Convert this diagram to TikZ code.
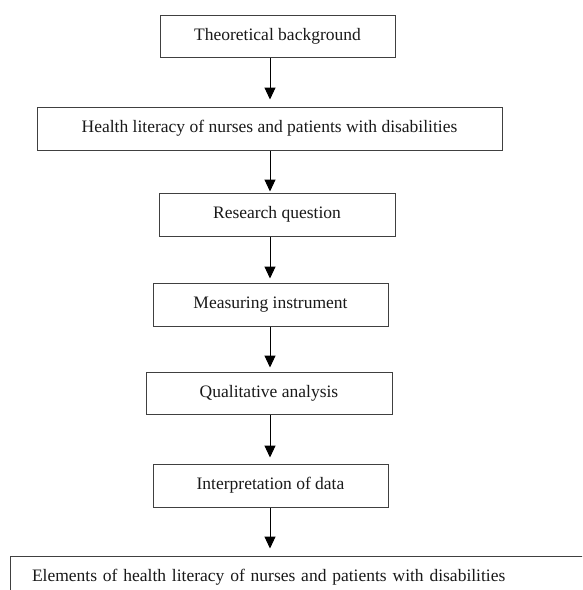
\documentclass[tikz,border=0pt]{standalone}
\usepackage{fontspec}
\setmainfont{Liberation Serif}
\usetikzlibrary{arrows.meta}
\begin{document}
\begin{tikzpicture}[x=1pt,y=-1pt,
  box/.style={draw=black!75, line width=1pt, rectangle, inner sep=0pt,
    font=\fontsize{17.5}{21}\selectfont, text=black!90},
  arr/.style={line width=1pt, -{Triangle[width=11pt,length=12pt]}}]
\useasboundingbox (0,0) rectangle (582,590);
\clip (0,0) rectangle (582,590);
\coordinate (ax) at (270,0);
\node[box, minimum width=235pt, minimum height=42pt] (b1) at (277.5,36) {Theoretical background};
\node[box, minimum width=465pt, minimum height=43pt] (b2) at (269.5,128.5) {Health literacy of nurses and patients with disabilities};
\node[box, minimum width=236pt, minimum height=43pt] (b3) at (277,214.5) {Research question};
\node[box, minimum width=235pt, minimum height=43pt] (b4) at (270.5,304.5) {Measuring instrument};
\node[box, minimum width=246pt, minimum height=42pt] (b5) at (269,393) {Qualitative analysis};
\node[box, minimum width=235pt, minimum height=43pt] (b6) at (270.5,485.5) {Interpretation of data};
\node[box, minimum width=590pt, minimum height=42pt, text width=546pt, inner xsep=22pt, align=left] (b7) at (305,577) {Elements of health literacy of nurses and patients with disabilities};
\draw[arr, shorten >=7pt] (b1.south -| ax) -- (b2.north -| ax);
\draw[arr, shorten >=1pt] (b2.south -| ax) -- (b3.north -| ax);
\draw[arr, shorten >=4pt] (b3.south -| ax) -- (b4.north -| ax);
\draw[arr, shorten >=4pt] (b4.south -| ax) -- (b5.north -| ax);
\draw[arr, shorten >=6pt] (b5.south -| ax) -- (b6.north -| ax);
\draw[arr, shorten >=7pt] (b6.south -| ax) -- (b7.north -| ax);
\end{tikzpicture}
\end{document}
